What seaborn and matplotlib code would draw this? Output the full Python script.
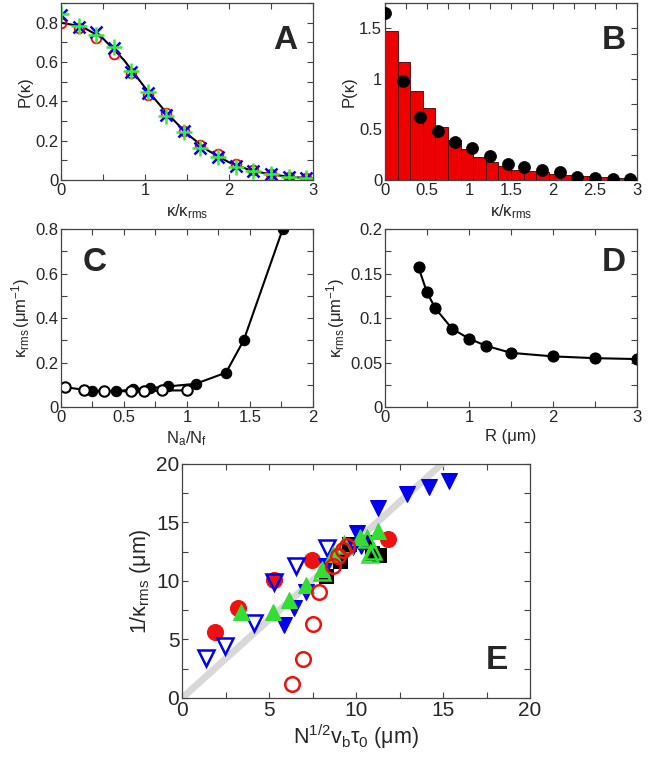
import numpy as np
import pandas as pd
import matplotlib
matplotlib.use('Agg')
import matplotlib.pyplot as plt
import seaborn as sns
from matplotlib.ticker import MultipleLocator, FuncFormatter

sns.set_style('ticks')
plt.rcParams['font.family'] = ['Liberation Sans', 'DejaVu Sans']
plt.rcParams['mathtext.fontset'] = 'custom'
plt.rcParams['mathtext.rm'] = 'Liberation Sans'
plt.rcParams['mathtext.it'] = 'Liberation Sans:italic'

# ---- Panel A: P(kappa), three data sets + model curve
a_x = [0.0, 0.21, 0.42, 0.63, 0.84, 1.04, 1.25, 1.46, 1.66, 1.87, 2.08, 2.29, 2.50, 2.71, 2.92]
a_red = [0.80, 0.775, 0.72, 0.64, 0.545, 0.43, 0.34, 0.25, 0.18, 0.13, 0.08, 0.05, 0.03, 0.015, 0.01]
a_blue = [0.84, 0.78, 0.75, 0.67, 0.55, 0.44, 0.33, 0.25, 0.165, 0.115, 0.07, 0.045, 0.03, 0.015, 0.01]
a_green = [0.845, 0.785, 0.735, 0.675, 0.555, 0.445, 0.325, 0.245, 0.165, 0.115, 0.065, 0.045, 0.03, 0.015, 0.01]
a_curve_x = [0.0, 0.25, 0.5, 0.75, 1.0, 1.25, 1.5, 1.75, 2.0, 2.25, 2.5, 2.75, 3.0]
a_curve_y = [0.80, 0.78, 0.72, 0.61, 0.47, 0.345, 0.235, 0.15, 0.09, 0.05, 0.028, 0.015, 0.008]

# ---- Panel B: histogram + black dots
b_bin_lo = [0.0, 0.15, 0.3, 0.45, 0.6, 0.75, 0.9, 1.05, 1.2, 1.35,
            1.5, 1.65, 1.8, 1.95, 2.1, 2.25, 2.4, 2.55, 2.7, 2.85]
b_heights = [1.475, 1.165, 0.875, 0.715, 0.525, 0.40, 0.305, 0.225, 0.175, 0.135,
             0.10, 0.09, 0.075, 0.06, 0.05, 0.042, 0.035, 0.03, 0.024, 0.02]
b_dots = [1.65, 0.98, 0.62, 0.48, 0.38, 0.32, 0.24, 0.157, 0.13, 0.10, 0.075, 0.03, 0.02, 0.01, 0.01]

# ---- Panel C: kappa_rms vs Na/Nf
c_open_x = [0.03, 0.18, 0.34, 0.56, 0.66, 0.80, 1.00]
c_open_y = [0.09, 0.078, 0.072, 0.071, 0.071, 0.075, 0.075]
c_fill_x = [0.25, 0.44, 0.57, 0.71, 0.85, 1.07, 1.31, 1.45, 1.76]
c_fill_y = [0.072, 0.071, 0.08, 0.086, 0.093, 0.105, 0.155, 0.30, 0.80]

# ---- Panel D: kappa_rms vs R
d_r = [0.4, 0.5, 0.6, 0.8, 1.0, 1.2, 1.5, 2.0, 2.5, 3.0]
d_k = [0.157, 0.129, 0.111, 0.088, 0.077, 0.069, 0.061, 0.057, 0.055, 0.054]

# ---- Panel E: 1/kappa_rms vs N^1/2 v_b tau_0
e_line_x = [0.0, 15.0]
e_line_y = [0.0, 20.1]
e_red_fill_x = [1.91, 3.19, 5.29, 7.45, 11.85]
e_red_fill_y = [5.64, 7.69, 10.06, 11.82, 13.59]
e_red_open_x = [6.31, 6.97, 7.51, 7.89, 8.70, 8.98, 9.27, 9.50]
e_red_open_y = [1.23, 3.33, 6.35, 9.06, 11.25, 12.1, 12.68, 12.96]
e_blue_open_x = [1.39, 2.48, 4.11, 5.29, 6.54, 8.31]
e_blue_open_y = [3.42, 4.47, 6.41, 9.89, 11.25, 12.82]
e_blue_fill_x = [5.83, 6.45, 7.10, 8.29, 9.80, 10.03, 10.30, 11.27, 12.90, 14.18, 15.35]
e_blue_fill_y = [6.27, 7.69, 9.08, 11.3, 12.9, 14.1, 12.96, 16.24, 17.46, 18.03, 18.52]
e_green_fill_x = [3.39, 5.20, 6.15, 7.12, 8.03, 8.65, 10.20, 11.28]
e_green_fill_y = [7.33, 7.33, 8.40, 9.68, 11.0, 12.3, 13.8, 14.3]
e_green_open_x = [8.03, 9.30, 10.60, 10.80, 11.00]
e_green_open_y = [10.8, 13.1, 13.6, 12.3, 12.6]
e_sq_x = [8.3, 9.1, 9.6, 10.5, 10.9, 11.3]
e_sq_y = [10.4, 11.7, 13.2, 13.3, 12.4, 12.2]

fig = plt.figure(figsize=(6.48, 7.61), dpi=100)
fmt = FuncFormatter(lambda v, p: f'{v:g}')


def style_axis(ax, xmaj, xmin, ymaj, ymin, size=12):
    ax.xaxis.set_major_locator(MultipleLocator(xmaj))
    ax.xaxis.set_minor_locator(MultipleLocator(xmin))
    ax.yaxis.set_major_locator(MultipleLocator(ymaj))
    ax.yaxis.set_minor_locator(MultipleLocator(ymin))
    ax.xaxis.set_major_formatter(fmt)
    ax.yaxis.set_major_formatter(fmt)
    ax.tick_params(which='both', direction='in', top=True, right=True,
                   length=4, width=0.8, color='#444444', labelsize=size, pad=2)
    for s in ax.spines.values():
        s.set_color('#444444')
        s.set_linewidth(0.9)


def letter(ax, x, y, t):
    ax.text(x, y, t, transform=ax.transAxes, fontsize=24, fontweight='bold',
            ha='center', va='center')


# Panel A
axA = fig.add_axes([0.094, 0.7635, 0.389, 0.2326])
sns.lineplot(x=a_curve_x, y=a_curve_y, ax=axA, color='black', lw=1.5,
             estimator=None, sort=False)
sns.lineplot(x=a_x, y=a_red, ax=axA, color='red', linestyle='none', marker='o',
             ms=7, mfc='none', mec='red', mew=1.3, estimator=None, sort=False)
sns.lineplot(x=a_x, y=a_blue, ax=axA, color='blue', linestyle='none', marker='x',
             ms=8, mec='blue', mew=1.8, estimator=None, sort=False)
sns.lineplot(x=a_x, y=a_green, ax=axA, color='#33ee33', linestyle='none', marker='+',
             ms=11, mec='#33ee33', mew=1.8, estimator=None, sort=False)
axA.set_xlim(0, 3)
axA.set_ylim(0, 0.9)
style_axis(axA, 1, 0.5, 0.2, 0.1)
axA.set_xlabel(r'$\mathregular{κ/κ_{rms}}$', fontsize=12, labelpad=3)
axA.set_ylabel('P(κ)', fontsize=12, labelpad=2)
letter(axA, 0.89, 0.79, 'A')

# Panel B
axB = fig.add_axes([0.594, 0.7635, 0.389, 0.2326])
b_edges = b_bin_lo + [3.0]
sns.histplot(x=b_bin_lo, weights=b_heights, bins=b_edges, ax=axB,
             color='#ee0000', edgecolor='#440000', linewidth=0.6, alpha=1)
sns.scatterplot(x=a_x, y=b_dots, ax=axB, color='black', s=75, edgecolor='black',
                linewidth=0.5, zorder=3)
axB.set_xlim(0, 3)
axB.set_ylim(0, 1.75)
style_axis(axB, 0.5, 0.25, 0.5, 0.25)
axB.set_xlabel(r'$\mathregular{κ/κ_{rms}}$', fontsize=12, labelpad=3)
axB.set_ylabel('P(κ)', fontsize=12, labelpad=2)
letter(axB, 0.91, 0.79, 'B')

# Panel C
axC = fig.add_axes([0.094, 0.465, 0.389, 0.234])
sns.lineplot(x=c_fill_x, y=c_fill_y, ax=axC, color='black', lw=1.5, marker='o',
             ms=7.5, mfc='black', mec='black', estimator=None, sort=False)
sns.lineplot(x=c_open_x, y=c_open_y, ax=axC, color='black', lw=1.5, marker='o',
             ms=7.5, mfc='white', mec='black', mew=1.5, estimator=None, sort=False)
axC.set_xlim(0, 2)
axC.set_ylim(0, 0.8)
style_axis(axC, 0.5, 0.25, 0.2, 0.1)
axC.set_xlabel(r'$\mathregular{N_a/N_f}$', fontsize=12, labelpad=3)
axC.set_ylabel(r'$\mathregular{κ_{rms}\,(μm^{-1})}$', fontsize=12, labelpad=2)
letter(axC, 0.135, 0.815, 'C')

# Panel D
axD = fig.add_axes([0.594, 0.465, 0.389, 0.234])
sns.lineplot(x=d_r, y=d_k, ax=axD, color='black', lw=1.5, marker='o',
             ms=8, mfc='black', mec='black', estimator=None, sort=False)
axD.set_xlim(0, 3)
axD.set_ylim(0, 0.2)
style_axis(axD, 1, 0.5, 0.05, 0.025)
axD.set_xlabel('R (μm)', fontsize=12, labelpad=3)
axD.set_ylabel(r'$\mathregular{κ_{rms}\,(μm^{-1})}$', fontsize=12, labelpad=2)
letter(axD, 0.91, 0.815, 'D')

# Panel E
axE = fig.add_axes([0.281, 0.0828, 0.537, 0.3075])
sns.lineplot(x=e_line_x, y=e_line_y, ax=axE, color='#d8d8d8', lw=5,
             estimator=None, sort=False)
sns.lineplot(x=e_sq_x, y=e_sq_y, ax=axE, color='black', linestyle='none', marker='s',
             ms=10, mfc='black', mec='black', estimator=None, sort=False)
sns.lineplot(x=e_red_fill_x, y=e_red_fill_y, ax=axE, color='#ee1111', linestyle='none',
             marker='o', ms=11.5, mfc='#ee1111', mec='#ee1111', estimator=None, sort=False)
sns.lineplot(x=e_blue_open_x, y=e_blue_open_y, ax=axE, color='#0000ee', linestyle='none',
             marker='v', ms=11.5, mfc='none', mec='#0000ee', mew=1.8, estimator=None, sort=False)
sns.lineplot(x=e_blue_fill_x, y=e_blue_fill_y, ax=axE, color='#0000ee', linestyle='none',
             marker='v', ms=11.5, mfc='#0000ee', mec='#0000ee', estimator=None, sort=False)
sns.lineplot(x=e_green_fill_x, y=e_green_fill_y, ax=axE, color='#33dd33', linestyle='none',
             marker='^', ms=11.5, mfc='#33dd33', mec='#33dd33', estimator=None, sort=False)
sns.lineplot(x=e_green_open_x, y=e_green_open_y, ax=axE, color='#33dd33', linestyle='none',
             marker='^', ms=11.5, mfc='none', mec='#33dd33', mew=1.8, estimator=None, sort=False)
sns.lineplot(x=e_red_open_x, y=e_red_open_y, ax=axE, color='#ee1111', linestyle='none',
             marker='o', ms=10.5, mfc='none', mec='#ee1111', mew=1.8, estimator=None, sort=False)
axE.set_xlim(0, 20)
axE.set_ylim(0, 20)
style_axis(axE, 5, 2.5, 5, 2.5, size=15)
axE.set_xlabel(r'$\mathregular{N^{1/2}v_bτ_0\ (μm)}$', fontsize=15.5, labelpad=2)
axE.set_ylabel(r'$\mathregular{1/κ_{rms}\ (μm)}$', fontsize=15.5, labelpad=2)
letter(axE, 0.905, 0.16, 'E')

fig.savefig('out.png', dpi=100)
